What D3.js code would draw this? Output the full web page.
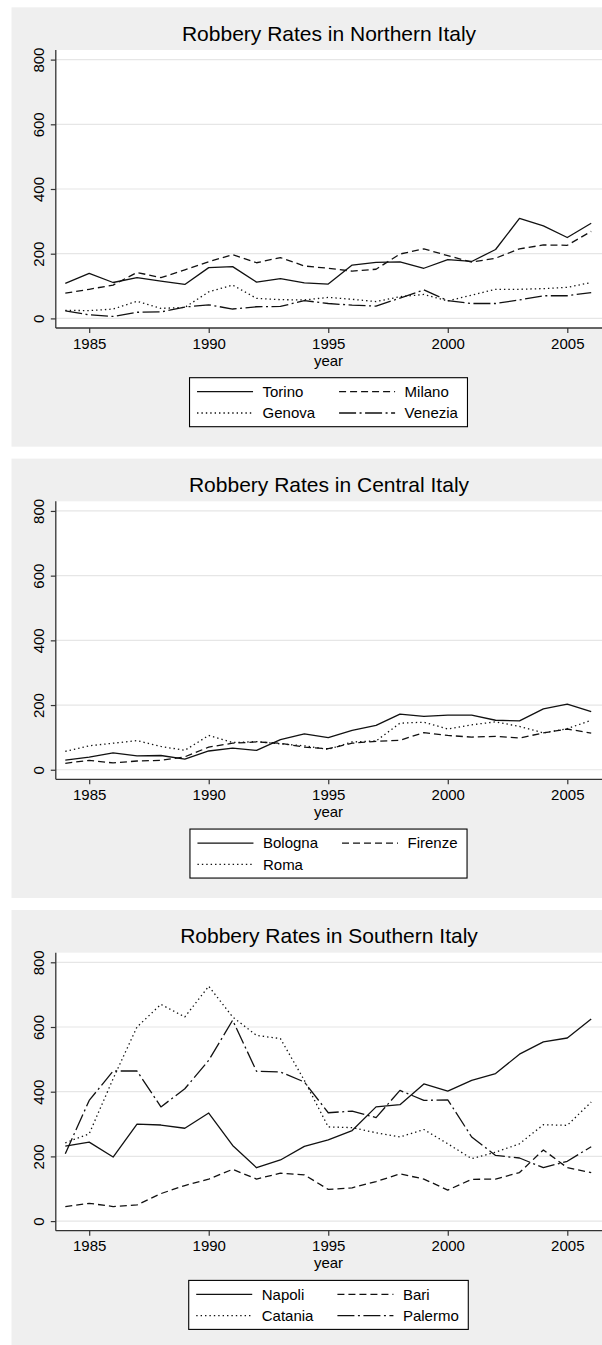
<!DOCTYPE html>
<html>
<head>
<meta charset="utf-8">
<script src="https://cdn.jsdelivr.net/npm/d3@7"></script>
<style>
  html, body { margin: 0; padding: 0; background: #ffffff; }
  svg { display: block; }
  text { font-family: "Liberation Sans", Arial, Helvetica, sans-serif; fill: #000; }
</style>
</head>
<body>
<svg id="chart" width="602" height="1345"></svg>
<script>
// ---------------- data ----------------
const years = d3.range(1984, 2007);
const yTicks = [0, 200, 400, 600, 800];
const xTicks = [1985, 1990, 1995, 2000, 2005];

const titles = ["Robbery Rates in Northern Italy", "Robbery Rates in Central Italy", "Robbery Rates in Southern Italy"];

// Northern Italy
const torino  = [108,139,111,126,115,105,157,160,112,123,110,106,165,173,175,155,182,176,213,309,286,250,294];
const milano  = [78,90,103,142,126,150,175,197,172,188,162,155,146,152,199,215,194,174,186,215,227,226,269];
const genova  = [25,24,29,53,31,34,82,103,62,58,57,65,59,52,67,74,54,72,90,90,92,96,111];
const venezia = [23,11,6,19,20,35,42,29,36,37,55,46,41,38,63,88,55,46,46,57,70,70,80];

// Central Italy
const bologna = [30,39,52,43,44,33,58,67,60,93,111,99,122,137,172,165,169,169,153,151,188,203,180];
const firenze = [20,29,21,27,29,40,70,82,86,82,70,65,82,88,91,115,106,101,103,98,114,126,113];
const roma    = [57,74,82,90,72,60,106,84,87,80,74,63,86,89,144,147,126,139,148,134,114,127,153];

// Southern Italy
const napoli  = [232,244,198,300,297,287,334,234,165,189,231,251,280,353,360,424,402,435,456,516,554,566,625];
const bari    = [45,55,45,50,85,110,130,160,130,148,143,98,103,122,146,130,96,129,130,150,220,165,150];
const catania = [242,270,440,600,670,631,726,631,574,564,435,291,289,273,260,283,239,193,213,239,298,296,368];
const palermo = [208,373,464,464,353,409,497,621,463,461,430,335,340,320,404,373,375,260,203,195,165,185,230];

const northNames = ["Torino", "Milano", "Genova", "Venezia"];
const centralNames = ["Bologna", "Firenze", "Roma"];
const southNames = ["Napoli", "Bari", "Catania", "Palermo"];

const panels = [
  { title: titles[0], names: northNames, series: [torino, milano, genova, venezia] },
  { title: titles[1], names: centralNames, series: [bologna, firenze, roma] },
  { title: titles[2], names: southNames, series: [napoli, bari, catania, palermo] }
];

// ---------------- styles ----------------
const dashStyles = ["none", "7,4", "1.4,3", "17,3.5,2,3.5"];
const panelStep = 451.35;
const FONT = 15;

const svg = d3.select("#chart");

const plotLeft = 55.8, plotRight = 602, plotTop = 50, plotBottom = 328;
const x = d3.scaleLinear().domain([1984, 2006]).range([65.3, 591.2]);
const y = d3.scaleLinear().domain([0, 800]).range([318.4, 59.6]);

function measure(txt, size) {
  const t = svg.append("text").attr("font-size", size).text(txt);
  const w = t.node().getComputedTextLength();
  t.remove();
  return w;
}

panels.forEach((p, pi) => {
  const g = svg.append("g").attr("transform", `translate(0,${pi * panelStep})`);

  // outer grey background
  g.append("rect").attr("x", 11.5).attr("y", 7.3).attr("width", 602 - 11.5).attr("height", 439.4)
    .attr("fill", "#efefef");

  // plot region
  g.append("rect").attr("x", plotLeft).attr("y", plotTop)
    .attr("width", plotRight - plotLeft).attr("height", plotBottom - plotTop).attr("fill", "#ffffff");

  // gridlines
  g.append("g").selectAll("line").data(yTicks).join("line")
    .attr("x1", plotLeft).attr("x2", plotRight)
    .attr("y1", d => y(d)).attr("y2", d => y(d))
    .attr("stroke", "#e6e6e6").attr("stroke-width", 1.2);

  // title
  g.append("text").attr("x", 329).attr("y", 40.5).attr("text-anchor", "middle")
    .attr("font-size", 21).text(p.title);

  // y axis
  const yAxis = d3.axisLeft(y).tickValues(yTicks).tickSize(5).tickPadding(4).tickFormat(d3.format("d"));
  const ya = g.append("g").attr("transform", `translate(${plotLeft},0)`).call(yAxis);
  ya.select(".domain").attr("d", `M0,${plotTop}V${plotBottom}`).attr("stroke", "#333").attr("stroke-width", 1.3);
  ya.selectAll(".tick line").attr("stroke", "#333").attr("stroke-width", 1.2);
  ya.selectAll(".tick text")
    .attr("font-size", FONT).attr("font-family", "Liberation Sans, Arial, sans-serif")
    .attr("fill", "#000")
    .attr("x", 0).attr("dy", null).attr("y", 0)
    .attr("text-anchor", "middle")
    .attr("transform", "translate(-11.5,0) rotate(-90)");

  // x axis
  const xAxis = d3.axisBottom(x).tickValues(xTicks).tickSize(5).tickPadding(5).tickFormat(d3.format("d"));
  const xa = g.append("g").attr("transform", `translate(0,${plotBottom})`).call(xAxis);
  xa.select(".domain").attr("d", `M${plotLeft},0H${plotRight}`).attr("stroke", "#333").attr("stroke-width", 1.3);
  xa.selectAll(".tick line").attr("stroke", "#333").attr("stroke-width", 1.2);
  xa.selectAll(".tick text").attr("font-size", FONT).attr("font-family", "Liberation Sans, Arial, sans-serif")
    .attr("fill", "#000").attr("dy", null).attr("y", 20.5);

  // x title
  g.append("text").attr("x", 328.5).attr("y", 365.5).attr("text-anchor", "middle")
    .attr("font-size", FONT).text("year");

  // lines
  const line = d3.line().x((d, i) => x(years[i])).y(d => y(d));
  p.series.forEach((s, si) => {
    g.append("path").datum(s).attr("d", line)
      .attr("fill", "none").attr("stroke", "#111").attr("stroke-width", 1.3)
      .attr("stroke-dasharray", dashStyles[si]).attr("stroke-linejoin", "round");
  });

  // legend
  const keyW = 56, padL = 7.5, gapKT = 9.5, colGap = 24, padR = 9.5;
  const col1 = p.names.filter((d, i) => i % 2 === 0);
  const col2 = p.names.filter((d, i) => i % 2 === 1);
  const w1 = d3.max(col1, t => measure(t, FONT));
  const w2 = d3.max(col2, t => measure(t, FONT));
  const boxW = padL + keyW + gapKT + w1 + colGap + keyW + gapKT + w2 + padR;
  const boxX = 328.5 - boxW / 2;
  const boxY = 377.7;
  const rowH = 21.3;
  const boxH = 49;
  const lg = g.append("g");
  lg.append("rect").attr("x", boxX).attr("y", boxY).attr("width", boxW).attr("height", boxH)
    .attr("fill", "#fff").attr("stroke", "#000").attr("stroke-width", 1.1);
  p.names.forEach((nm, i) => {
    const col = i % 2, row = Math.floor(i / 2);
    const kx = boxX + padL + (col === 0 ? 0 : keyW + gapKT + w1 + colGap);
    const cy = boxY + 14 + row * rowH;
    lg.append("line").attr("x1", kx).attr("x2", kx + keyW).attr("y1", cy).attr("y2", cy)
      .attr("stroke", "#111").attr("stroke-width", 1.3).attr("stroke-dasharray", dashStyles[i]);
    lg.append("text").attr("x", kx + keyW + gapKT).attr("y", cy + 5.4).attr("font-size", FONT).text(nm);
  });
});
</script>
</body>
</html>
